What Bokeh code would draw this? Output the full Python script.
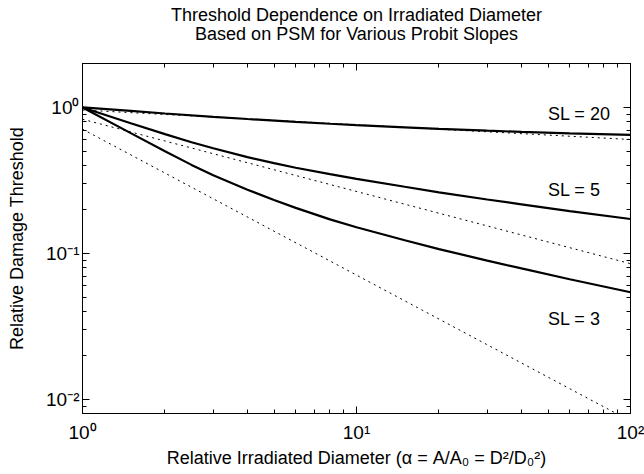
from bokeh.plotting import figure
from bokeh.models import Range1d, LogAxis, FixedTicker, CustomJSTickFormatter, Label, Title
from bokeh.embed import file_html
from bokeh.resources import INLINE

# ---- data ----
x_sl20 = [1, 1.5, 2, 3, 4, 6, 8, 10, 15, 20, 30, 40, 60, 100]
y_sl20 = [1.0, 0.946, 0.909, 0.863, 0.833, 0.796, 0.773, 0.757, 0.731, 0.714, 0.693, 0.680, 0.665, 0.649]

x_sl5 = [1, 1.5, 2, 2.5, 3, 4, 5, 6, 8, 10, 15, 20, 30, 40, 60, 100]
y_sl5 = [1.0, 0.780, 0.656, 0.578, 0.525, 0.457, 0.415, 0.386, 0.349, 0.324, 0.286, 0.262,
         0.234, 0.217, 0.195, 0.172]

x_sl3 = [1, 1.5, 2, 2.5, 3, 4, 5, 6, 8, 10, 15, 20, 30, 40, 60, 100]
y_sl3 = [1.0, 0.667, 0.501, 0.404, 0.343, 0.273, 0.232, 0.205, 0.171, 0.151, 0.123, 0.107,
         0.0893, 0.0789, 0.0665, 0.0542]

x_dot = [1, 100]
y_dot20 = [0.96, 0.603]
y_dot5 = [0.83, 0.085]
y_dot3 = [0.71, 0.0071]

sl_labels = ["SL = 20", "SL = 5", "SL = 3"]
sl_label_x = [50, 50, 50]
sl_label_y = [0.901, 0.271, 0.0354]

x_major = [1, 10, 100]
x_minor = [2, 3, 4, 5, 6, 7, 8, 9, 20, 30, 40, 50, 60, 70, 80, 90]
y_major = [0.01, 0.1, 1]
y_minor = [0.008, 0.009, 0.02, 0.03, 0.04, 0.05, 0.06, 0.07, 0.08, 0.09,
           0.2, 0.3, 0.4, 0.5, 0.6, 0.7, 0.8, 0.9, 2]

title_lines = ["Threshold Dependence on Irradiated Diameter",
               "Based on PSM for Various Probit Slopes"]
x_title = "Relative Irradiated Diameter (\u03b1 = A/A\u2080 = D\u00b2/D\u2080\u00b2)"
y_title = "Relative Damage Threshold"

FONT = "Liberation Sans"
W, H = 644, 474
BL, BR, BT, BB = 82, 14, 63, 61

p = figure(x_axis_type="log", y_axis_type="log",
           x_range=Range1d(1, 100), y_range=Range1d(0.008, 2.0),
           width=W, height=H,
           min_border_left=BL, min_border_right=BR,
           min_border_top=BT, min_border_bottom=BB,
           output_backend="svg", toolbar_location=None,
           background_fill_color="white", border_fill_color="white")

p.xgrid.visible = False
p.ygrid.visible = False
p.outline_line_color = "black"
p.outline_line_width = 1

fmt_code = """
const e = Math.round(Math.log10(tick));
const m = {"-":"\\u207B","0":"\\u2070","1":"\\u00B9","2":"\\u00B2","3":"\\u00B3"};
return "10" + String(e).split("").map(c => m[c]).join("");
"""
blank_code = "return ' ';"

# mirrored axes
p.add_layout(LogAxis(), "above")
p.add_layout(LogAxis(), "right")

for ax in p.xaxis:
    ax.ticker = FixedTicker(ticks=x_major, minor_ticks=x_minor)
for ax in p.yaxis:
    ax.ticker = FixedTicker(ticks=y_major, minor_ticks=y_minor)

for ax in list(p.xaxis) + list(p.yaxis):
    ax.major_tick_in = 7
    ax.major_tick_out = 0
    ax.minor_tick_in = 4
    ax.minor_tick_out = 0
    ax.axis_line_color = "black"
    ax.major_tick_line_color = "black"
    ax.minor_tick_line_color = "black"
    ax.major_tick_line_width = 1
    ax.minor_tick_line_width = 1
    ax.formatter = CustomJSTickFormatter(code=fmt_code)
    ax.major_label_text_font = FONT
    ax.major_label_text_font_size = "19px"
    ax.major_label_text_color = "black"
    ax.axis_label_text_font = FONT
    ax.axis_label_text_font_size = "18px"
    ax.axis_label_text_font_style = "normal"
    ax.axis_label_text_color = "black"

top_ax = p.above[-1]
right_ax = p.right[-1]
for ax in (top_ax, right_ax):
    ax.formatter = CustomJSTickFormatter(code=blank_code)
    ax.major_label_text_font_size = "2px"
    ax.major_label_standoff = 0
    ax.axis_label = None

bottom_ax = p.below[0]
left_ax = p.left[0]
bottom_ax.axis_label = x_title
left_ax.axis_label = y_title
bottom_ax.major_label_standoff = 8
bottom_ax.axis_label_standoff = 2
left_ax.major_label_standoff = 3
left_ax.axis_label_standoff = 16

# two centred title lines
p.title.text = title_lines[0]
p.title.align = "center"
p.title.text_font = FONT
p.title.text_font_size = "18px"
p.title.text_font_style = "normal"
p.title.text_color = "black"
p.title.standoff = -36
t2 = Title(text=title_lines[1], align="center", text_font=FONT, text_font_size="18px",
           text_font_style="normal", text_color="black", standoff=30)
p.add_layout(t2, "above")

# curves
p.line(x_dot, y_dot20, line_color="black", line_width=1, line_dash="2 4")
p.line(x_dot, y_dot5, line_color="black", line_width=1, line_dash="2 4")
p.line(x_dot, y_dot3, line_color="black", line_width=1, line_dash="2 4")
p.line(x_sl20, y_sl20, line_color="black", line_width=2.2)
p.line(x_sl5, y_sl5, line_color="black", line_width=2.2)
p.line(x_sl3, y_sl3, line_color="black", line_width=2.2)

for t, lx, ly in zip(sl_labels, sl_label_x, sl_label_y):
    p.add_layout(Label(x=lx, y=ly, text=t, text_font=FONT, text_font_size="18px",
                       text_align="left", text_baseline="alphabetic", text_color="black"))

open("out.html", "w").write(file_html(p, INLINE))
